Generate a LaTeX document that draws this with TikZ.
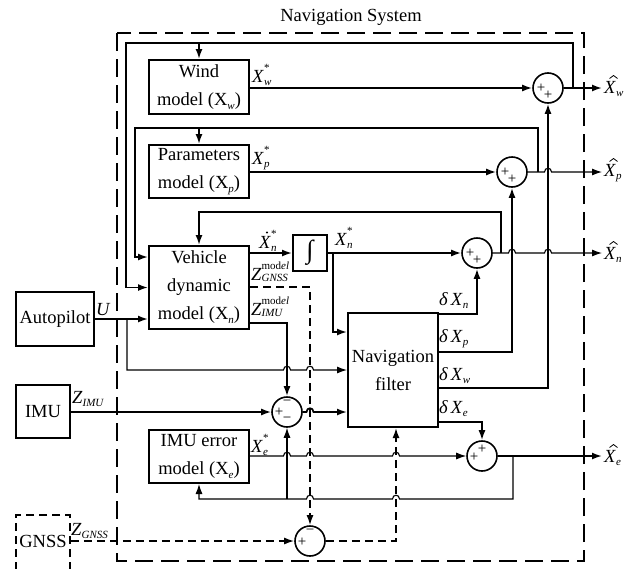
\documentclass[tikz,border=0pt]{standalone}
\usepackage{fontspec}
\setmainfont{Liberation Serif}
\usetikzlibrary{arrows.meta,calc}
\newcommand\sm{\fontsize{11}{11}\selectfont}
\newcommand\lo[1]{\raisebox{-0.2em}{\sm #1}}
\newcommand\hi[1]{\raisebox{0.55em}{\sm #1}}
\newcommand\sx[3]{#1\rlap{\hi{#3}}\lo{#2}}
\newcommand\hop[2]{-- (#1-3.5,#2) .. controls (#1-3.5,#2-5) and (#1+3.5,#2-5) .. (#1+3.5,#2)}
\begin{document}
\begin{tikzpicture}[x=1pt,y=-1pt,font=\fontsize{18.5}{28}\selectfont,
  box/.style={draw,line width=2pt,inner sep=0pt,align=center},
  sumn/.style={draw,circle,line width=1.6pt,minimum size=30pt,inner sep=0pt},
  con/.style={line width=1.7pt},
  thn/.style={line width=1.1pt},
  ar/.style={-{Latex[length=10pt,width=7pt]}},
  ra/.style={{Latex[length=10pt,width=7pt]}-},
  dsh/.style={line width=1.6pt,dash pattern=on 8pt off 5pt},
  lab/.style={anchor=base west,inner sep=0pt},
  hatmark/.style={line width=0.8pt},
  sgn/.style={font=\fontsize{15}{15}\selectfont,inner sep=0pt}]
\useasboundingbox (0,0) rectangle (632,568);

\node[anchor=base] (title) at (351,21) {Navigation System};
\draw[line width=2.8pt,dash pattern=on 18pt off 8pt] (117,33) rectangle (584,561);

% blocks
\node[box,minimum width=100pt,minimum height=54pt] (wind) at (199,87) {Wind\\model (X\lo{\textit{w}})};
\node[box,minimum width=100pt,minimum height=53pt] (par) at (199,171.5) {Parameters\\model (X\lo{\textit{p}})};
\node[box,minimum width=100pt,minimum height=83pt] (veh) at (199,287.5) {Vehicle\\dynamic\\model (X\lo{\textit{n}})};
\node[box,minimum width=34pt,minimum height=36pt] (integ) at (310,253) {\fontsize{26}{26}\selectfont ∫};
\node[box,minimum width=90pt,minimum height=114pt] (filt) at (393,370) {Navigation\\filter};
\node[box,minimum width=100pt,minimum height=53pt] (ierr) at (199,456.5) {IMU error\\model (X\lo{\textit{e}})};
\node[box,minimum width=78pt,minimum height=54pt] (auto) at (55,319) {Autopilot};
\node[box,minimum width=54pt,minimum height=53pt] (imu) at (43,411.5) {IMU};
\node[draw,dsh,minimum width=54pt,minimum height=66pt,inner sep=0pt] (gnss) at (43,548) {};
\node (gnsst) at (43,541) {GNSS};

% summing junctions
\node[sumn] (sw) at (548,88) {};
\node[sgn] at ($(sw)+(-7,0)$) {+};
\node[sgn] at ($(sw)+(0,7)$) {+};
\node[sumn] (sp) at (512,172) {};
\node[sgn] at ($(sp)+(-7,0)$) {+};
\node[sgn] at ($(sp)+(0,7)$) {+};
\node[sumn] (sn) at (477,253) {};
\node[sgn] at ($(sn)+(-7,0)$) {+};
\node[sgn] at ($(sn)+(0,7)$) {+};
\node[sumn] (se) at (482,456) {};
\node[sgn] at ($(se)+(-8,1)$) {+};
\node[sgn] at ($(se)+(0,-7)$) {+};
\node[sumn] (si) at (287,412) {};
\node[sgn] at ($(si)+(-8,0)$) {+};
\node[sgn] at ($(si)+(0,-9)$) {−};
\node[sgn] at ($(si)+(0,8)$) {−};
\node[sumn] (sg) at (310,541) {};
\node[sgn] at ($(sg)+(-8,1)$) {+};
\node[sgn] at ($(sg)+(0,-9)$) {−};

% forward paths
\draw[con,ar] (wind.east |- sw) -- (sw.west);
\draw[con,ar] (par.east |- sp) -- (sp.west);
\draw[con,ar] (veh.east |- integ) -- (integ.west);
\draw[con,ar] (integ.east) -- (sn.west);
\draw[con,ar] (333,253) |- ([yshift=-20pt]filt.north west);

% outputs
\draw[con,ar] (sw.east) -- (602,88);
\draw[thn,ar] (sp.east) \hop{548}{172} -- (602,172);
\draw[thn,ar] (sn.east) \hop{512}{253} \hop{548}{253} -- (602,253);
\draw[con,ar] (se.east) -- (602,456);

% feedback loops
\draw[con,ar] (573,88) |- (126,43) |- (veh.west);
\draw[con,ar] (199,43) -- (wind.north);
\draw[con,ar] (538,172) |- (135,128) |- ([yshift=-12pt]veh.north west);
\draw[con,ar] (199,128) -- (par.north);
\draw[con,ar] (501,253) -- (501,212) -| (veh.north);

% filter outputs
\draw[con,ar] ([yshift=-2pt]filt.north east) -| (sn.south);
\draw[con,ar] (filt.east |- 0,352) -| (sp.south);
\draw[con,ar] (filt.east |- 0,388) -| (sw.south);
\draw[con,ar] (filt.east |- 0,422) -| (se.north);

% vehicle model outputs
\draw[con,ar] (veh.east |- 0,323) -| (si.north);
\draw[dsh,ar] (veh.east |- 0,287) -| (sg.north);

% autopilot
\draw[con,ar] (auto.east) -- (veh.west |- auto.east);
\draw[thn,ar] (127,319) -- (127,370) \hop{287}{370} \hop{310}{370} -- (filt.west);

% IMU
\draw[con,ar] (imu.east |- si) -- (si.west);
\draw[con,ar] (si.east) \hop{310}{412} -- (filt.west |- si);

% GNSS
\draw[dsh,ar] (gnss.east |- sg) -- (sg.west);
\draw[dsh,ar] (sg.east) -| ([xshift=3pt]filt.south);

% IMU error model
\draw[thn,ar] (ierr.east |- se) \hop{287}{456} \hop{310}{456} \hop{396}{456} -- (se.west);
\draw[thn,ra] (ierr.south) -- (199,499) \hop{310}{499} \hop{396}{499} -- (513,499) -- (513,456);
\draw[thn,ar] (287,499) -- (si.south);

% labels
\node[lab] at (252,82) {\sx{\textit{X}}{\textit{w}}{*}};
\node[lab] at (252,164) {\sx{\textit{X}}{\textit{p}}{*}};
\node[lab] (xdn) at (259,248) {\sx{\textit{X}}{\textit{n}}{*}};
\fill ($(xdn.base west)+(8,-15.5)$) circle[radius=1.2pt];
\node[lab] at (335,245) {\sx{\textit{X}}{\textit{n}}{*}};
\node[lab] at (251,280) {\textit{Z}\rlap{\hi{mod\textit{el}}}\raisebox{-0.08em}{\sm\textit{GNSS}}};
\node[lab] at (251,315) {\textit{Z}\rlap{\hi{mod\textit{el}}}\raisebox{-0.08em}{\sm\textit{IMU}}};
\node[lab] at (251,452) {\sx{\textit{X}}{\textit{e}}{*}};
\node[lab] at (96,315) {\textit{U}};
\node[lab] at (72,403) {\textit{Z}\lo{\textit{IMU}}};
\node[lab] at (71,535) {\textit{Z}\lo{\textit{GNSS}}};
\node[lab] at (439,305) {\textit{δ\,X}\lo{\textit{n}}};
\node[lab] at (439,342) {\textit{δ\,X}\lo{\textit{p}}};
\node[lab] at (439,380) {\textit{δ\,X}\lo{\textit{w}}};
\node[lab] at (439,413) {\textit{δ\,X}\lo{\textit{e}}};
\foreach \nm/\yy/\sb in {ow/93/w, op/176/p, on/259/n, oe/462/e}{
  \node[lab] (\nm) at (604,\yy) {\textit{X}\lo{\textit{\sb}}};
  \draw[hatmark] ($(\nm.base west)+(5.5,-14.5)$) -- ($(\nm.base west)+(9.5,-17.5)$) -- ($(\nm.base west)+(13.5,-14.5)$);
}
\end{tikzpicture}
\end{document}
